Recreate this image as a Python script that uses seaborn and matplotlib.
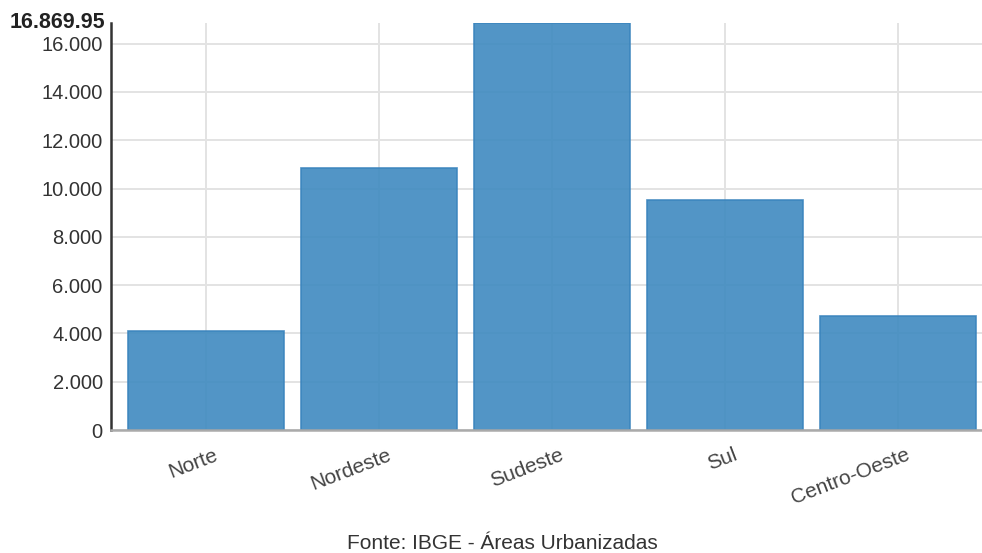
import matplotlib
matplotlib.use("Agg")
import matplotlib.pyplot as plt
import matplotlib.transforms as mtransforms
import seaborn as sns
import pandas as pd

regioes = ["Norte", "Nordeste", "Sudeste", "Sul", "Centro-Oeste"]
area_km2 = [4110, 10840, 16869.95, 9520, 4730]
y_ticks = [0, 2000, 4000, 6000, 8000, 10000, 12000, 14000, 16000]
y_labels = ["0", "2.000", "4.000", "6.000", "8.000", "10.000", "12.000", "14.000", "16.000"]
max_label = "16.869.95"
fonte = "Fonte: IBGE - Áreas Urbanizadas"

sns.set_theme(style="white")
plt.rcParams["font.family"] = ["Liberation Sans", "DejaVu Sans"]

df = pd.DataFrame({"regiao": regioes, "area": area_km2})

fig = plt.figure(figsize=(9.82, 5.53), dpi=100)
ax = fig.add_axes([0.113, 0.2224, 0.887, 0.7367])

sns.barplot(data=df, x="regiao", y="area", order=regioes, ax=ax,
            color="#3f8ac0", alpha=0.9, width=0.9, edgecolor="#3a84bd",
            linewidth=1.2, saturation=1)

ax.set_xlim(-0.549, 4.486)
ax.set_ylim(0, max(area_km2))
ax.set_yticks(y_ticks)
ax.set_yticklabels(y_labels, fontsize=14.5, color="#333333")
ax.set_xlabel("")
ax.set_ylabel("")

ax.set_axisbelow(True)
ax.grid(True, axis="both", color="#e3e3e3", linewidth=1.4)

for side in ["top", "right"]:
    ax.spines[side].set_visible(False)
ax.spines["left"].set_color("#333333")
ax.spines["left"].set_linewidth(1.8)
ax.spines["bottom"].set_color("#aaaaaa")
ax.spines["bottom"].set_linewidth(1.8)

ax.tick_params(axis="y", length=0, pad=6)
ax.tick_params(axis="x", length=0, pad=11)

offset = mtransforms.ScaledTranslation(8 / 100, 0, fig.dpi_scale_trans)
for lbl in ax.get_xticklabels():
    lbl.set_rotation(21)
    lbl.set_rotation_mode("anchor")
    lbl.set_ha("right")
    lbl.set_va("top")
    lbl.set_fontsize(15)
    lbl.set_color("#444444")
    lbl.set_transform(lbl.get_transform() + offset)

# maximum value shown on the y axis
ax.text(-0.006, max(area_km2), max_label, transform=ax.get_yaxis_transform(),
        ha="right", va="center", fontsize=15.5, fontweight="bold", color="#222222")

fig.text(0.512, 0.018, fonte, ha="center", va="center", fontsize=15, color="#333333")

fig.savefig("out.png", dpi=100)
